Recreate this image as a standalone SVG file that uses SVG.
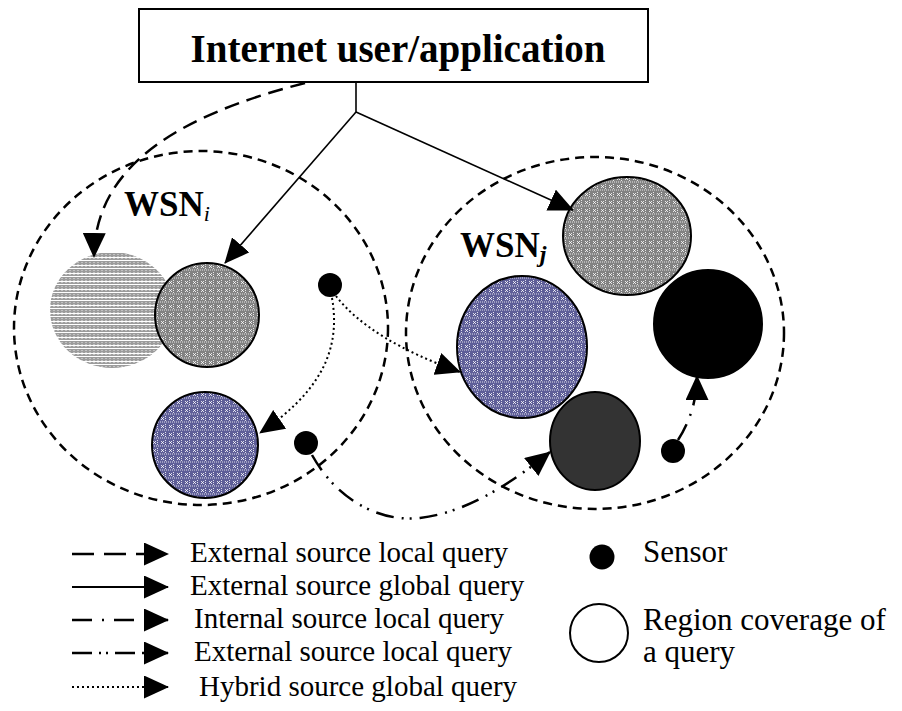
<svg xmlns="http://www.w3.org/2000/svg" width="902" height="711" viewBox="0 0 902 711">
<style>
  .serif { font-family: "Liberation Serif", "Times New Roman", serif; fill: #000; }
  .title { font-size: 39px; font-weight: bold; }
  .lbl { font-size: 35px; font-weight: bold; }
  .leg { font-size: 29px; }
  .leg2 { font-size: 31px; }
  .wsn { fill: none; stroke: #000; stroke-width: 2.5; stroke-dasharray: 9 6; }
  .edge { fill: none; stroke: #000; }
  .solid { stroke-width: 1.6; }
  .dash { stroke-width: 2.5; stroke-dasharray: 15 8; }
  .dot { stroke-width: 2; stroke-dasharray: 2 3; }
  .dashdot { stroke-width: 2.5; stroke-dasharray: 18 9 2 9; }
  .dashdotdot { stroke-width: 2.5; stroke-dasharray: 18 8 2 6 2 8; }
  .ring { stroke: #000; stroke-width: 2; }
</style>
<defs>
  <marker id="arr" markerUnits="userSpaceOnUse" markerWidth="25" markerHeight="23" viewBox="0 0 25 23" refX="24" refY="11.5" orient="auto">
    <path d="M0,0 L25,11.5 L0,23 Z" fill="#000"/>
  </marker>
  <pattern id="texLight" width="8" height="8" patternUnits="userSpaceOnUse">
    <rect width="8" height="8" fill="#9c9c9c"/>
    <path d="M0,1.5H8M0,4.5H8" stroke="#fff" stroke-width="1"/>
    <path d="M2,0V8M6,0V8" stroke="#fff" stroke-width="0.8" stroke-dasharray="1 1"/>
  </pattern>
  <pattern id="texGray" width="8" height="8" patternUnits="userSpaceOnUse">
    <rect width="8" height="8" fill="#828282"/>
    <path d="M1,1L4,4M4,1L1,4" stroke="#fff" stroke-width="0.8"/>
    <path d="M0,6H8M5.5,0V5" stroke="#fff" stroke-width="0.8" stroke-dasharray="1 1"/>
  </pattern>
  <pattern id="texBlue" width="8" height="8" patternUnits="userSpaceOnUse">
    <rect width="8" height="8" fill="#5e5e98"/>
    <path d="M1,1L4,4M4,1L1,4" stroke="#fff" stroke-width="0.8"/>
    <path d="M0,6H8M5.5,0V5" stroke="#fff" stroke-width="0.8" stroke-dasharray="1 1"/>
  </pattern>
</defs>

<rect width="902" height="711" fill="#fff"/>

<g id="wsn-i">
  <ellipse class="wsn" cx="201" cy="328" rx="187" ry="177"/>
  <text class="serif lbl" x="124" y="216">WSN<tspan font-style="italic" font-weight="normal" font-size="22" dy="5">i</tspan></text>
</g>
<g id="wsn-j">
  <ellipse class="wsn" cx="595" cy="333" rx="189" ry="176"/>
  <text class="serif lbl" x="460" y="257">WSN<tspan font-style="italic" font-size="24" dy="5">j</tspan></text>
</g>

<g id="user-app">
  <rect x="139" y="9" width="509" height="73" fill="#fff" stroke="#000" stroke-width="2"/>
  <text class="serif title" x="398" y="62" text-anchor="middle">Internet user/application</text>
</g>

<g id="region-i-light"><ellipse cx="112" cy="310" rx="62" ry="58" fill="url(#texLight)"/></g>
<g id="region-i-gray"><circle class="ring" cx="207" cy="315" r="52" fill="url(#texGray)"/></g>
<g id="region-i-blue"><circle class="ring" cx="205" cy="445" r="53" fill="url(#texBlue)"/></g>
<g id="region-j-gray"><ellipse class="ring" cx="627" cy="236" rx="64" ry="59" fill="url(#texGray)"/></g>
<g id="region-j-blue"><ellipse class="ring" cx="522" cy="347" rx="65" ry="71" fill="url(#texBlue)"/></g>
<g id="region-j-black"><circle class="ring" cx="708" cy="324" r="54" fill="#000"/></g>
<g id="region-j-dark"><ellipse class="ring" cx="595" cy="441" rx="45" ry="49" fill="#333"/></g>

<g id="sensor-1"><circle cx="330" cy="285" r="12" fill="#000"/></g>
<g id="sensor-2"><circle cx="306" cy="443" r="12" fill="#000"/></g>
<g id="sensor-3"><circle cx="673" cy="451" r="12" fill="#000"/></g>

<g id="connectors">
  <path class="edge solid" d="M356,82 V112"/>
  <path class="edge solid" d="M356,112 L225,263" marker-end="url(#arr)"/>
  <path class="edge solid" d="M356,112 L573,210" marker-end="url(#arr)"/>
  <path class="edge dash" d="M305,83 C180,115 95,165 94,257" marker-end="url(#arr)"/>
  <path class="edge dot" d="M332,298 C342,355 315,395 260,433" marker-end="url(#arr)"/>
  <path class="edge dot" d="M336,296 Q370,340 460,372" marker-end="url(#arr)"/>
  <path class="edge dashdotdot" d="M312,455 C340,505 385,522 420,518 C470,512 515,480 550,452" marker-end="url(#arr)"/>
  <path class="edge dashdot" d="M678,440 Q697,410 697,376" marker-end="url(#arr)"/>
</g>

<g id="legend">
  <path class="edge" stroke-width="2.5" stroke-dasharray="22 10" d="M72,554 H168" marker-end="url(#arr)"/>
  <text class="serif leg" x="190" y="562">External source local query</text>
  <path class="edge" stroke-width="1.8" d="M72,587 H168" marker-end="url(#arr)"/>
  <text class="serif leg" x="190" y="595">External source global query</text>
  <path class="edge" stroke-width="2.5" stroke-dasharray="20 10 2 10" d="M72,620 H168" marker-end="url(#arr)"/>
  <text class="serif leg" x="194" y="628">Internal source local query</text>
  <path class="edge" stroke-width="2.5" stroke-dasharray="20 7 2 5 2 7" d="M72,653 H168" marker-end="url(#arr)"/>
  <text class="serif leg" x="194" y="661">External source local query</text>
  <path class="edge" stroke-width="2" stroke-dasharray="2 3" d="M72,687 H168" marker-end="url(#arr)"/>
  <text class="serif leg" x="199" y="696">Hybrid source global query</text>
  <circle cx="602" cy="557" r="12.5" fill="#000"/>
  <text class="serif leg2" x="643" y="562">Sensor</text>
  <circle cx="599" cy="633" r="29" fill="none" stroke="#000" stroke-width="2"/>
  <text class="serif leg2" x="643" y="630">Region coverage of</text>
  <text class="serif leg2" x="643" y="662">a query</text>
</g>
</svg>
